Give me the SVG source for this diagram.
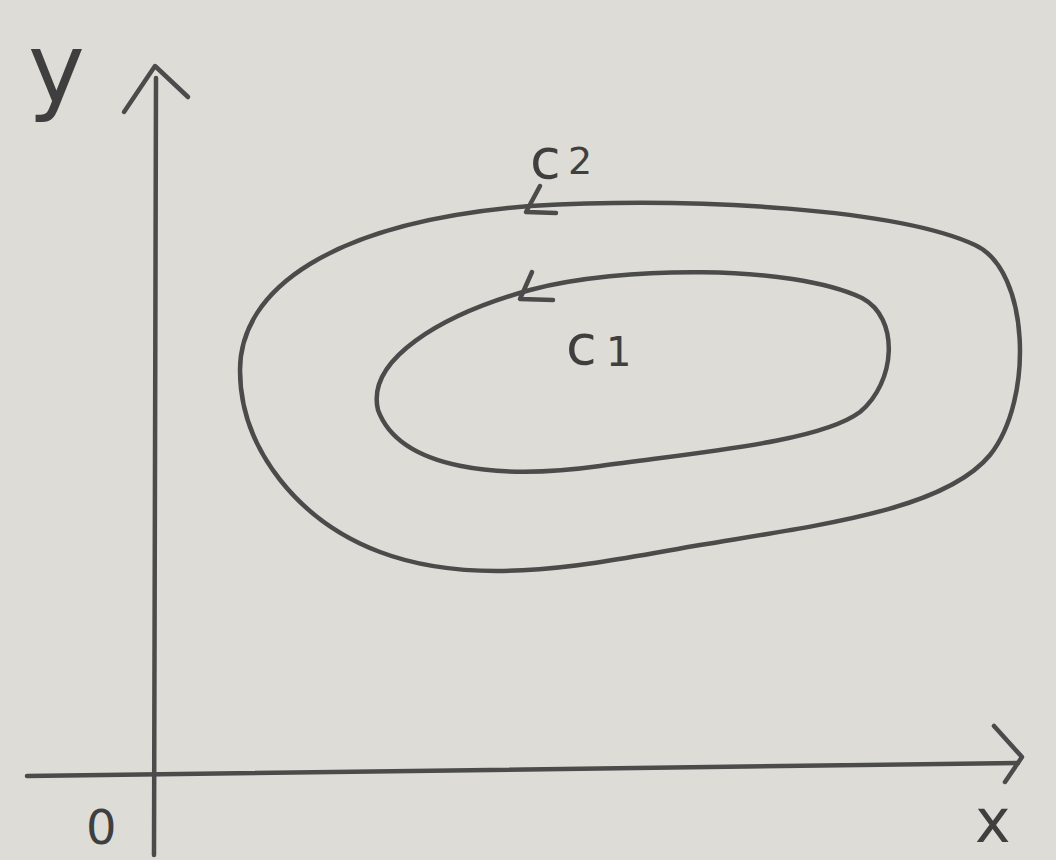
<svg xmlns="http://www.w3.org/2000/svg" width="1056" height="860" viewBox="0 0 1056 860">
<style>
.ln{fill:none;stroke:#4b4b4b;stroke-width:4.5;stroke-linecap:round;stroke-linejoin:round}
.lb{font-family:"DejaVu Sans","Liberation Sans",sans-serif;fill:#3f3f3f}
</style>
<rect width="1056" height="860" fill="#dddcd6"/>
<g id="connectors">
<g id="y-axis"><path class="ln" d="M156,78 L154,855"/><path class="ln" d="M124,112 L155,66 L188,97"/></g>
<g id="x-axis"><path class="ln" d="M27,776 L1018,763"/><path class="ln" d="M994,726 L1022,757 L1005,782"/></g>
</g>
<g id="c2">
<path class="ln" d="M530,206 C700,196 900,210 975,245 C1030,270 1034,400 990,455 C945,510 820,525 700,545 C600,562 480,590 380,552 C300,522 240,450 240,370 C240,290 330,222 530,206 Z"/>
<path class="ln" d="M540,186 L526,212 L556,213"/>
<text class="lb" x="530" y="178" font-size="56">c</text><text class="lb" x="568" y="174" font-size="38">2</text>
</g>
<g id="c1">
<path class="ln" d="M530,290 C620,266 790,264 862,298 C900,318 896,382 860,412 C820,442 700,452 600,466 C500,480 400,470 378,410 C366,360 440,315 530,290 Z"/>
<path class="ln" d="M532,272 L520,299 L553,300"/>
<text class="lb" x="566" y="364" font-size="56">c</text><text class="lb" x="606" y="366" font-size="40">1</text>
</g>
<g id="labels">
<text class="lb" x="28" y="102" font-size="96">y</text>
<text class="lb" x="86" y="844" font-size="48">0</text>
<text class="lb" x="975" y="842" font-size="60">x</text>
</g>
</svg>
